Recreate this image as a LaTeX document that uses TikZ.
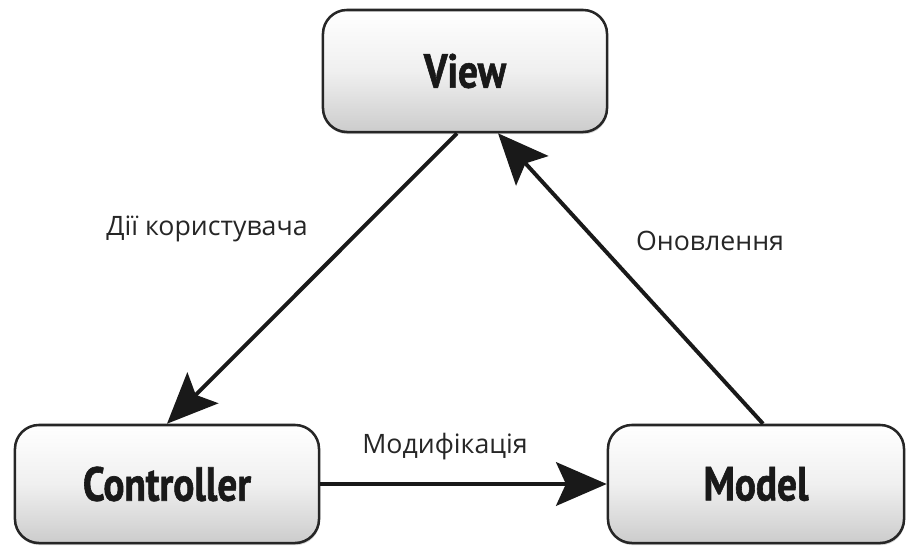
\documentclass[tikz,border=0pt]{standalone}
\usepackage{fontspec}
\setmainfont{Open Sans}
\newfontfamily\boxfont[FakeStretch=0.82, FakeBold=1.2]{PT Sans}
\usetikzlibrary{arrows.meta}
\usetikzlibrary{shadows}
\tikzset{>={Stealth[length=36pt, width=31pt, inset=7pt]}}
\tikzset{
  mvcbox/.style={draw=black!85, line width=1.8pt, rounded corners=0.6cm,
    top color=white, bottom color=black!20, middle color=black!6,
    drop shadow={shadow xshift=0.5pt, shadow yshift=-1.5pt, opacity=.35},
    font=\boxfont\bfseries\fontsize{34}{34}\selectfont, text=black!90},
  flow/.style={->, line width=2.8pt, black!90},
  lbl/.style={font=\fontsize{19}{21}\selectfont, text=black!85}
}

\begin{document}
\begin{tikzpicture}[x=0.025cm, y=-0.025cm]
      \useasboundingbox (0,0) rectangle (906,546);
      % nodes
      \node[mvcbox, minimum width=7.1cm, minimum height=3.05cm] (view) at (465,71) {View};
      \node[mvcbox, minimum width=7.6cm, minimum height=2.95cm] (ctrl) at (167,484) {Controller};
      \node[mvcbox, minimum width=7.4cm, minimum height=2.95cm] (model) at (756,484) {Model};
      % labels
      \node[lbl] (act) at (207,229) {Дії користувача};
      \node[lbl] (upd) at (710,241) {Оновлення};
      \node[lbl] (mod) at (445,447) {Модифікація};
      % arrows
      \draw[flow] ([xshift=-0.2cm]view.south) -- (ctrl.north);
      \draw[flow] (ctrl.east) -- (model.west);
      \draw[flow] ([xshift=0.175cm]model.north) -- ([xshift=0.825cm]view.south);
    \end{tikzpicture}
\end{document}
